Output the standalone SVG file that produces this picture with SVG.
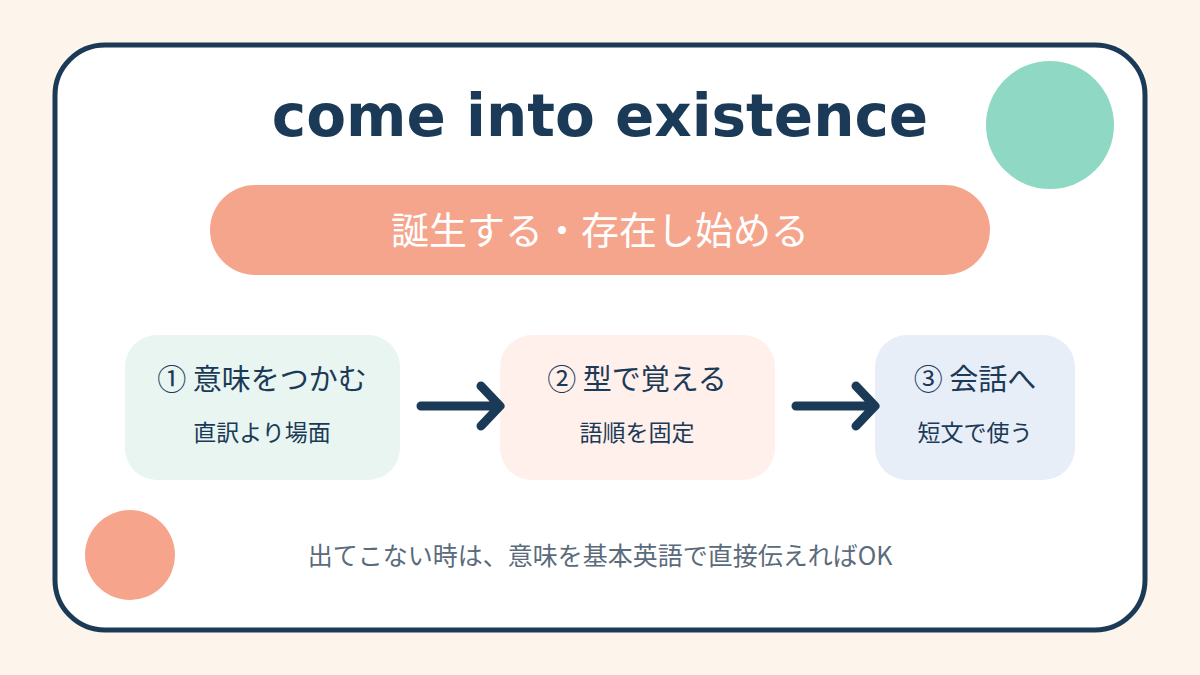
<svg xmlns="http://www.w3.org/2000/svg" width="1200" height="675" viewBox="0 0 1200 675">
<style>
.jp{font-family:"Noto Sans CJK JP","Noto Sans",sans-serif;}
.t1{font-size:29px;fill:#1B3A57;text-anchor:middle;}
.t2{font-size:23px;fill:#1B3A57;text-anchor:middle;}
.conn{stroke:#1B3A57;stroke-width:9;stroke-linecap:round;stroke-linejoin:round;fill:none;}
</style>
<rect width="1200" height="675" fill="#FDF5EC"/>
<rect x="55" y="45" width="1090" height="585" rx="50" fill="#FFFFFF" stroke="#1B3A57" stroke-width="5"/>
<circle cx="1050" cy="125" r="64" fill="#8FD8C3"/>
<circle cx="130" cy="555" r="45" fill="#F6A58C"/>
<text x="600" y="136" text-anchor="middle" font-family="DejaVu Sans, sans-serif" font-weight="bold" font-size="58" fill="#1B3A57">come into existence</text>
<g id="meaning">
<rect x="210" y="185" width="780" height="90" rx="45" fill="#F6A58D"/>
<text x="600" y="244" class="jp" font-size="38" fill="#FFFFFF" text-anchor="middle">誕生する・存在し始める</text>
</g>
<g id="step1">
<rect x="125" y="335" width="275" height="145" rx="32" fill="#E8F5F1"/>
<text x="262" y="390" class="jp t1">① 意味をつかむ</text>
<text x="262" y="441" class="jp t2">直訳より場面</text>
</g>
<g id="step2">
<rect x="500" y="335" width="275" height="145" rx="32" fill="#FFF0EB"/>
<text x="637" y="390" class="jp t1">② 型で覚える</text>
<text x="637" y="441" class="jp t2">語順を固定</text>
</g>
<g id="step3">
<rect x="875" y="335" width="200" height="145" rx="32" fill="#E8EEF8"/>
<text x="975" y="390" class="jp t1">③ 会話へ</text>
<text x="975" y="441" class="jp t2">短文で使う</text>
</g>
<g id="connectors">
<path class="conn" d="M421 406 H496 M481 386 L500 406 L481 426"/>
<path class="conn" d="M796 406 H871 M856 386 L875 406 L856 426"/>
</g>
<text x="600" y="565" class="jp" font-size="25" fill="#5A6B7B" text-anchor="middle">出てこない時は、意味を基本英語で直接伝えればOK</text>
</svg>
